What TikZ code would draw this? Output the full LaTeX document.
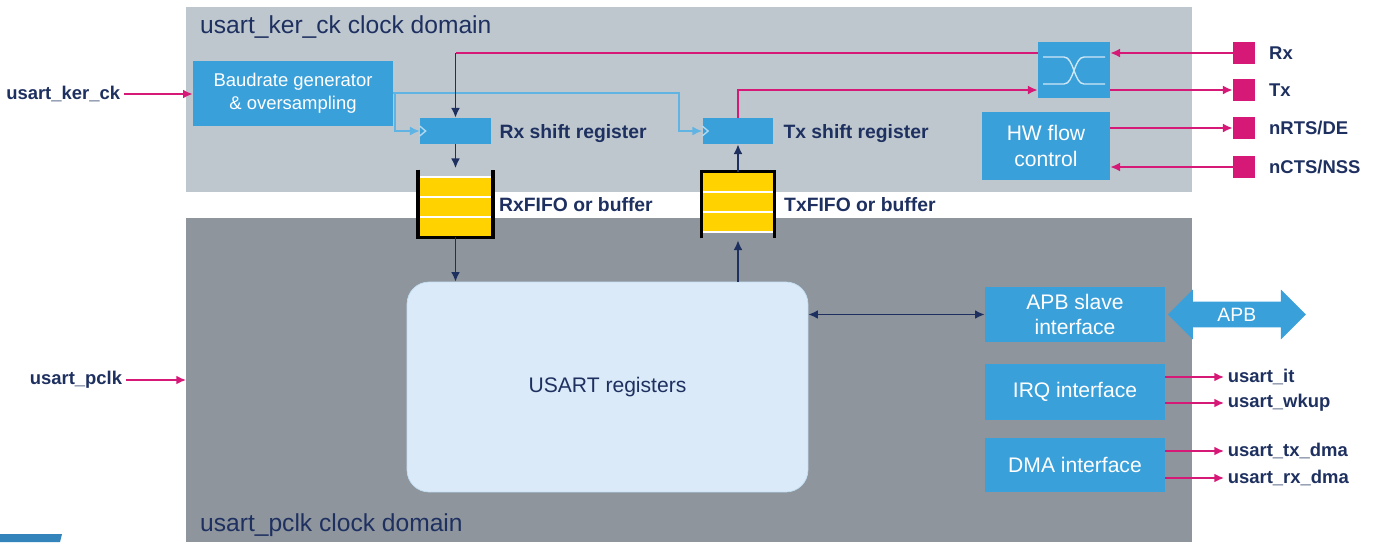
\documentclass[tikz,border=0pt]{standalone}
\usepackage{fontspec}
\setmainfont{Liberation Sans}
\usetikzlibrary{positioning,arrows.meta,shapes.arrows}

\definecolor{navy}{RGB}{30,48,96}
\definecolor{stblue}{RGB}{58,160,218}
\definecolor{magent}{RGB}{214,24,118}
\definecolor{kerbg}{RGB}{190,199,206}
\definecolor{pclkbg}{RGB}{142,149,157}
\definecolor{fifoyel}{RGB}{255,210,0}
\definecolor{regfill}{RGB}{218,234,248}
\definecolor{clkline}{RGB}{95,180,228}

\begin{document}
\begin{tikzpicture}[
        x=0.02cm, y=-0.02cm,
        >={Latex[length=5.5pt,width=5pt]},
        blk/.style={
            fill=stblue, text=white, align=center, inner sep=0pt,
            font=\fontsize{12}{14.5}\selectfont
        },
        shreg/.style={blk, minimum width=1.42cm, minimum height=0.52cm},
        iface/.style={blk, minimum width=3.6cm},
        iopad/.style={fill=magent, minimum size=0.44cm, inner sep=0pt},
        fifo/.style={fill=fifoyel, minimum height=1.2cm, inner sep=0pt},
        domain/.style={fill=#1, minimum width=20.12cm, anchor=north west, inner sep=0pt},
        sig/.style={magent, line width=0.9pt},
        clk/.style={clkline, line width=0.8pt},
        data/.style={navy, line width=0.9pt},
        slot/.style={white, line width=1pt},
        wall/.style={black, line width=2pt},
        xwire/.style={white!75!stblue, line width=0.8pt},
        iolbl/.style={text=navy, inner sep=2pt, font=\bfseries\fontsize{10.5}{12}\selectfont},
        tag/.style={text=navy, font=\bfseries\fontsize{11}{13}\selectfont},
        title/.style={text=navy, anchor=west, font=\fontsize{14}{16}\selectfont}
    ]
    \useasboundingbox (0,0) rectangle (1374,542);

    % 1. Clock domains
    \node[domain=kerbg, minimum height=3.7cm] (kerdom) at (186,7) {};
    \node[domain=pclkbg, minimum height=6.48cm] (pdom) at (186,218) {};
    \node[title] (kertitle) at (194,27) {usart\_ker\_ck clock domain};
    \node[title] (ptitle) at (194,525) {usart\_pclk clock domain};
    \fill[stblue!75!navy] (0,534) -- (62,534) -- (60,542) -- (0,542) -- cycle;

    % 2. Kernel clock side
    \node[blk, minimum width=4cm, minimum height=1.3cm,
          font=\fontsize{10.5}{13}\selectfont] (baud) at (293,93.5)
          {Baudrate generator\\ \& oversampling};
    \node[iolbl, anchor=east] (kerck) at (124,94) {usart\_ker\_ck};
    \draw[sig, ->] (kerck.east) -- (baud.west |- kerck.east);

    % 3. Shift registers
    \node[shreg] (rxsr) at (455.5,131) {};
    \node[shreg] (txsr) at (738,131) {};
    \node[tag, right=0.04cm of rxsr, yshift=-0.06cm] (rxtag) {Rx shift register};
    \node[tag, right=0.07cm of txsr, yshift=-0.06cm] (txtag) {Tx shift register};
    \foreach \r in {rxsr, txsr}
        \draw[xwire, white!60!stblue] ([yshift=0.1cm]\r.west) -- ++(0.12cm,-0.1cm) -- ++(-0.12cm,-0.1cm);

    % Reparto del reloj
    \coordinate (ckfork) at (395,93);
    \coordinate (txbend) at (679,93);
    \draw[clk] (baud.east |- ckfork) -- (ckfork);
    \draw[clk, ->] (ckfork) |- (rxsr.west);
    \draw[clk, ->] (ckfork) -- (txbend) |- (txsr.west);

    % 4. Crossbar and pads
    \node[blk, minimum width=1.44cm, minimum height=1.12cm] (xbar) at (1074,70) {};
    \draw[xwire] (1043,57) -- (1064,57) .. controls (1074,57) and (1074,84) .. (1084,84) -- (1105,84);
    \draw[xwire] (1043,84) -- (1064,84) .. controls (1074,84) and (1074,57) .. (1084,57) -- (1105,57);
    \node[blk, minimum width=2.56cm, minimum height=1.36cm] (hw) at (1046,146) {HW flow\\control};

    \node[iopad] (rxpad) at (1244,53) {};
    \node[iopad] (txpad) at (1244,90) {};
    \node[iopad] (rtspad) at (1244,128) {};
    \node[iopad] (ctspad) at (1244,167) {};
    \node[iolbl, right=0.2cm of rxpad] (rxname) {Rx};
    \node[iolbl, right=0.2cm of txpad] (txname) {Tx};
    \node[iolbl, right=0.2cm of rtspad] (rtsname) {nRTS/DE};
    \node[iolbl, right=0.2cm of ctspad] (ctsname) {nCTS/NSS};

    \coordinate (rxbend) at (rxsr.north |- rxpad);
    \draw[sig, ->] (rxpad.west) -- (xbar.east |- rxpad);
    \draw[sig] (xbar.west |- rxpad) -- (rxbend);
    \draw[data, ->] (rxbend) -- (rxsr.north);
    \draw[sig, ->] (txsr.north) |- (xbar.west |- txpad);
    \draw[sig, ->] (xbar.east |- txpad) -- (txpad.west);
    \draw[sig, ->] (hw.east |- rtspad) -- (rtspad.west);
    \draw[sig, ->] (ctspad.west) -- (hw.east |- ctspad);

    % 5. FIFOs
    \node[fifo, minimum width=1.48cm] (rxfifo) at (455.5,207) {};
    \node[fifo, minimum width=1.44cm] (txfifo) at (738,202) {};
    \foreach \dy in {0,0.4,0.8}
        \draw[slot] ([yshift=-\dy cm]rxfifo.north west) -- ([yshift=-\dy cm]rxfifo.north east);
    \foreach \dy in {0.4,0.8,1.2}
        \draw[slot] ([yshift=-\dy cm]txfifo.north west) -- ([yshift=-\dy cm]txfifo.north east);
    \draw[wall] ([yshift=0.14cm]rxfifo.north west) -- (rxfifo.south west)
        -- (rxfifo.south east) -- ([yshift=0.14cm]rxfifo.north east);
    \draw[wall] ([yshift=-0.12cm]txfifo.south west) -- (txfifo.north west)
        -- (txfifo.north east) -- ([yshift=-0.12cm]txfifo.south east);
    \node[tag, anchor=west] (rxftag) at (493,205) {RxFIFO or buffer};
    \node[tag, anchor=west] (txftag) at (778,205) {TxFIFO or buffer};

    % 6. Registers
    \node[fill=regfill, draw=regfill!85!stblue, rounded corners=0.44cm,
          minimum width=8.02cm, minimum height=4.2cm, text=navy,
          font=\fontsize{12}{14}\selectfont] (regs) at (607.5,387) {USART registers};

    \draw[data, ->] (rxsr.south) -- ([yshift=0.17cm]rxfifo.north);
    \draw[data, ->] (rxfifo.south) -- (rxfifo.south |- regs.north);
    \draw[data, ->] (regs.north -| txfifo) -- ([yshift=-0.16cm]txfifo.south);
    \draw[data, ->] (txfifo.north) -- (txsr.south);

    % 7. Bus interfaces
    \node[iface, minimum height=1.1cm] (apb) at (1075,314.5) {APB slave\\interface};
    \node[iface, minimum height=1.12cm] (irq) at (1075,392) {IRQ interface};
    \node[iface, minimum height=1.08cm] (dma) at (1075,465) {DMA interface};
    \node[double arrow, fill=stblue, text=white, minimum height=2.76cm,
          double arrow head extend=0.24cm, inner sep=3.4pt,
          font=\fontsize{11}{13}\selectfont, right=0.04cm of apb] (apbbus) {APB};
    \draw[data, <->] (regs.east |- apb.west) -- (apb.west);

    \node[iolbl, anchor=west] (itname) at (1224,377) {usart\_it};
    \node[iolbl, anchor=west] (wkname) at (1224,403) {usart\_wkup};
    \node[iolbl, anchor=west] (txdname) at (1224,451) {usart\_tx\_dma};
    \node[iolbl, anchor=west] (rxdname) at (1224,478) {usart\_rx\_dma};
    \foreach \o/\n in {irq/itname, irq/wkname, dma/txdname, dma/rxdname}
        \draw[sig, ->] (\o.east |- \n.west) -- (\n.west);

    % 8. APB clock
    \node[iolbl, anchor=east] (pclk) at (126,380) {usart\_pclk};
    \draw[sig, ->] (pclk.east) -- (pdom.west |- pclk.east);

\end{tikzpicture}
\end{document}
